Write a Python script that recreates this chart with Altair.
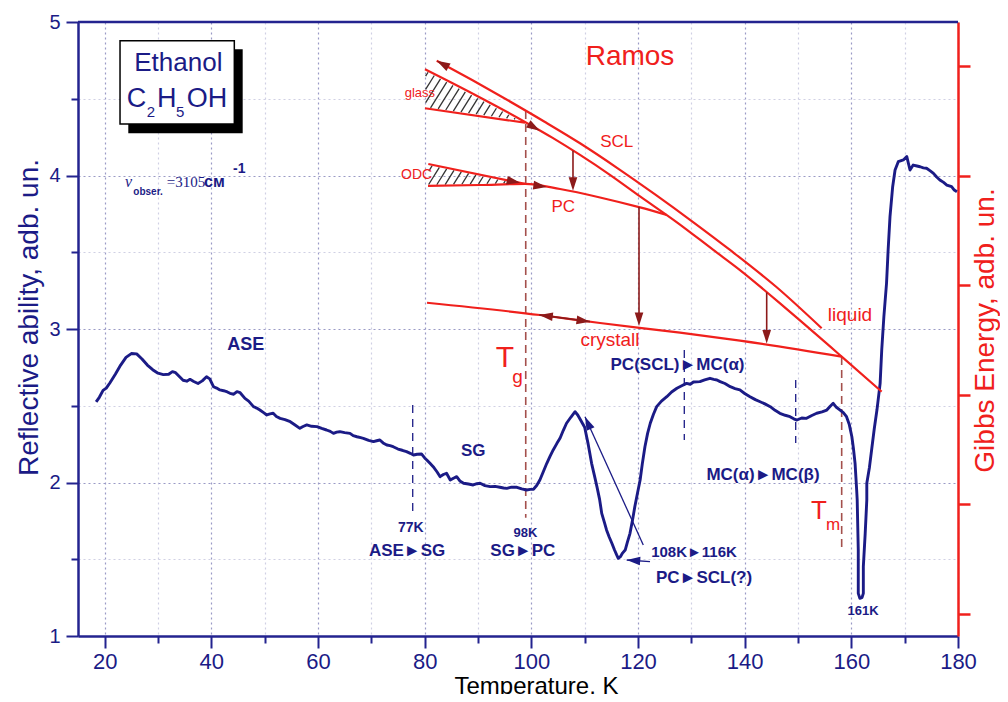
import math
import altair as alt
import pandas as pd

# ---------------- colours / fonts ----------------
NAVY = "#1b1b86"
AXC = "#23238f"
RED = "#f0201c"
DARKRED = "#8c1a1a"
DASHRED = "#a4504c"
GRID_MAJ = "#9a9ac6"
GRID_MIN = "#d0d0e4"
FONT = "Liberation Sans"
SERIF = "Liberation Serif"

W, H = 880, 614
X_DOMAIN = [15, 180]
Y_DOMAIN = [1, 5]
GIBBS_DOMAIN = [0.8, 6.4]

# ---------------- measured reflectivity curve ----------------
temp_K = [18.4, 19.0, 19.7, 20.3, 21.0, 22.0, 23.0, 24.0, 25.0, 26.0, 27.0, 28.0, 29.0, 30.0,
          31.0, 32.0, 32.7, 33.3, 34.0, 34.7, 35.4, 36.0, 36.7, 37.5, 38.3, 39.1, 39.7, 40.4,
          41.0, 41.6, 42.3, 43.0, 43.5, 44.2, 44.8, 45.4, 46.3, 47.0, 47.9, 48.5, 49.1, 49.8,
          50.4, 51.0, 51.6, 52.2, 52.9, 53.8, 54.8, 55.7, 56.6, 57.2, 57.9, 58.8, 59.8, 60.7,
          61.6, 62.3, 62.9, 63.5, 64.1, 65.0, 66.0, 66.6, 67.3, 68.0, 68.5, 69.5, 70.4, 71.0,
          71.6, 72.2, 72.9, 73.5, 74.1, 75.0, 75.8, 76.6, 77.3, 77.9, 78.6, 79.4, 80.0, 80.4,
          81.0, 81.6, 82.3, 82.9, 83.5, 84.1, 84.8, 85.4, 86.0, 86.6, 87.3, 88.2, 89.1, 89.8,
          90.4, 91.3, 92.3, 93.2, 94.1, 94.8, 95.4, 96.3, 97.3, 98.2, 99.1, 99.8, 100.4, 101.0,
          101.6, 102.3, 102.9, 103.5, 104.1, 104.8, 105.4, 106.0, 106.6, 107.4, 108.2, 108.7,
          109.1, 110.0, 110.6, 111.3, 111.8, 112.3, 112.8, 113.2, 113.7, 114.1, 114.6, 115.1,
          115.6, 116.0, 116.3, 116.7, 117.1, 117.6, 118.0, 118.5, 119.0, 119.4, 119.9, 120.4,
          120.8, 121.3, 121.8, 122.3, 122.9, 123.5, 124.4, 125.4, 126.3, 127.3, 128.2, 129.1,
          129.8, 130.4, 131.6, 132.5, 133.5, 134.2, 134.8, 135.4, 136.3, 137.3, 138.2, 139.1,
          140.0, 141.0, 142.0, 142.9, 143.8, 144.8, 145.7, 146.6, 147.6, 148.5, 149.2, 149.8,
          150.7, 151.6, 152.5, 153.5, 154.5, 155.4, 156.0, 156.6, 157.2, 157.9, 158.5, 159.1,
          159.6, 160.1, 160.4, 160.7, 161.0, 161.1, 161.3, 161.3, 161.6, 162.0, 162.25, 162.25,
          162.6, 162.9, 162.9, 163.4, 163.8, 164.3, 164.8, 165.4, 165.7, 166.1, 166.6, 166.9,
          167.25, 167.75, 168.2, 168.8, 169.75, 170.4, 171.0, 171.6, 172.3, 172.9, 173.5, 174.1,
          174.8, 175.4, 176.0, 176.6, 177.3, 177.9, 178.8, 179.3, 179.8]
reflect = [2.525, 2.555, 2.600, 2.615, 2.650, 2.705, 2.765, 2.815, 2.840, 2.838, 2.805, 2.765, 2.735, 2.712,
           2.703, 2.705, 2.722, 2.715, 2.690, 2.666, 2.660, 2.672, 2.658, 2.645, 2.662, 2.689, 2.675, 2.624,
           2.615, 2.603, 2.598, 2.590, 2.581, 2.575, 2.592, 2.585, 2.548, 2.530, 2.494, 2.485, 2.472, 2.455,
           2.440, 2.447, 2.451, 2.430, 2.418, 2.410, 2.396, 2.375, 2.353, 2.365, 2.375, 2.366, 2.364, 2.352,
           2.342, 2.333, 2.320, 2.328, 2.331, 2.325, 2.320, 2.305, 2.298, 2.292, 2.288, 2.275, 2.266, 2.272,
           2.277, 2.258, 2.244, 2.240, 2.233, 2.218, 2.210, 2.201, 2.190, 2.179, 2.184, 2.186, 2.160, 2.147,
           2.125, 2.103, 2.070, 2.038, 2.052, 2.060, 2.016, 2.028, 2.038, 2.010, 1.995, 1.990, 1.984, 1.992,
           1.995, 1.980, 1.973, 1.975, 1.969, 1.964, 1.962, 1.970, 1.969, 1.958, 1.951, 1.955, 1.956, 1.980,
           2.016, 2.075, 2.125, 2.170, 2.212, 2.255, 2.290, 2.340, 2.386, 2.425, 2.461, 2.440,
           2.415, 2.360, 2.260, 2.125, 2.050, 1.973, 1.890, 1.799, 1.740, 1.691, 1.645, 1.604,
           1.560, 1.528, 1.506, 1.517, 1.540, 1.560, 1.610, 1.669, 1.760, 1.842, 1.930, 2.016,
           2.120, 2.233, 2.320, 2.386, 2.445, 2.494, 2.530, 2.559, 2.590, 2.614, 2.630, 2.646,
           2.640, 2.655, 2.657, 2.668, 2.679, 2.672, 2.668, 2.657, 2.645, 2.624, 2.612, 2.603,
           2.580, 2.559, 2.540, 2.526, 2.512, 2.494, 2.470, 2.451, 2.438, 2.429, 2.415, 2.407,
           2.420, 2.418, 2.435, 2.451, 2.460, 2.472, 2.495, 2.516, 2.490, 2.472, 2.455, 2.429,
           2.380, 2.298, 2.220, 2.125, 1.951, 1.886, 1.560, 1.278, 1.246, 1.250, 1.278, 1.452,
           1.669, 1.886, 1.995, 2.100, 2.212, 2.350, 2.472, 2.646, 2.863, 3.080, 3.298, 3.515,
           3.732, 3.927, 4.036, 4.090, 4.101, 4.123, 4.036, 4.068, 4.062, 4.057, 4.050, 4.047,
           4.030, 4.014, 3.990, 3.971, 3.955, 3.938, 3.927, 3.905, 3.894]

# ---------------- Ramos Gibbs-energy sketch (in plot units) ----------------
scl_upper_T = [82.26, 88.9, 95.6, 102.4, 109.13, 116.2, 123.2, 130.2, 137.25, 145.9, 154.44]
scl_upper_R = [4.748, 4.622, 4.49, 4.352, 4.210, 4.047, 3.877, 3.700, 3.515, 3.275, 3.005]
scl_lower_T = [80.06, 89.4, 98.81, 104.0, 109.13, 114.8, 120.38, 127.3, 134.12, 139.12, 148.5,
               158.19, 165.69]
scl_lower_R = [4.692, 4.526, 4.349, 4.245, 4.134, 4.003, 3.864, 3.695, 3.515, 3.384, 3.111,
               2.820, 2.592]
glass_T = [80.06, 98.81]
glass_R = [4.438, 4.344]
odc_T = [80.68, 98.81]
odc_R = [4.075, 3.945]
pc_T = [80.63, 90.38, 98.81, 105.38, 112.88, 120.38, 125.38]
pc_R = [3.932, 3.938, 3.945, 3.912, 3.857, 3.792, 3.743]
crystal_T = [80.44, 101.63, 112.88, 127.88, 139.12, 158.19]
crystal_R = [3.171, 3.091, 3.039, 2.976, 2.924, 2.820]

# vertical transition arrows (dark red)
varrow_T = [107.81, 120.19, 144.13]
varrow_from = [4.161, 3.794, 3.238]
varrow_to = [3.90, 3.02, 2.905]
# double arrow on crystal line
darrow_T = [101.5, 111.0]
darrow_R = [3.092, 3.048]
# other red arrowheads: tip (T,R) and a point behind it
head_tip_T = [82.26, 101.6, 97.9, 102.9]
head_tip_R = [4.748, 4.291, 3.952, 3.925]
head_back_T = [95.6, 98.81, 80.68, 98.81]
head_back_R = [4.49, 4.349, 4.075, 3.945]

# hatched regions (glass, ODC)
glass_poly = [(80.06, 4.692), (98.81, 4.349), (80.06, 4.438)]
odc_poly = [(80.68, 4.075), (98.81, 3.945), (80.63, 3.932)]

# dashed markers
red_dash_T = [98.95, 158.19]
red_dash_R1 = [4.42, 2.818]
red_dash_R2 = [1.77, 1.573]
blue_dash_T = [77.76, 128.68, 149.57]
blue_dash_R1 = [2.505, 2.863, 2.668]
blue_dash_R2 = [1.801, 2.277, 2.257]

# navy pointer arrows: tail -> tip
blue_arrow_T1 = [120.99, 122.25]
blue_arrow_R1 = [1.593, 1.484]
blue_arrow_T2 = [110.06, 117.88]
blue_arrow_R2 = [2.429, 1.495]

# text labels
red_text = ["Ramos", "SCL", "glass", "ODC", "PC", "crystall", "liquid", "T", "g", "T", "m"]
red_text_T = [118.5, 116.0, 79.1, 78.5, 106.0, 114.75, 159.75, 95.06, 97.4, 153.94, 156.6]
red_text_R = [4.772, 4.220, 4.535, 4.003, 3.797, 2.928, 3.091, 2.811, 2.687, 1.812, 1.723]
red_text_size = [28, 17, 13, 14, 17, 19, 19, 30, 19, 26, 17]

blue_text = ["ASE", "SG", "77K", "ASE►SG", "98K", "SG►PC", "108K►116K", "PC►SCL(?)", "161K",
             "PC(SCL)►MC(α)", "MC(α)►MC(β)"]
blue_text_T = [46.46, 89.12, 77.4, 76.7, 98.9, 98.4, 130.5, 132.38, 162.19, 127.41, 143.44]
blue_text_R = [2.896, 2.205, 1.704, 1.554, 1.674, 1.554, 1.549, 1.378, 1.166, 2.765, 2.049]
blue_text_size = [18, 17, 14, 17, 13, 17, 15, 17, 13, 17, 17]

# Ethanol box
box_T = [22.88, 44.31]
box_R = [4.878, 4.336]
shadow_T = [24.43, 45.88]
shadow_R = [4.822, 4.275]

# ---------------- helpers ----------------
XS = alt.Scale(domain=X_DOMAIN, nice=False, zero=False)
YS = alt.Scale(domain=Y_DOMAIN, nice=False, zero=False)


def xq(field, axis=None):
    return alt.X(field, type="quantitative", scale=XS, axis=axis)


def yq(field, axis=None):
    return alt.Y(field, type="quantitative", scale=YS, axis=axis)


def to_px(t, r):
    return ((t - X_DOMAIN[0]) / (X_DOMAIN[1] - X_DOMAIN[0]) * W,
            (Y_DOMAIN[1] - r) / (Y_DOMAIN[1] - Y_DOMAIN[0]) * H)


def to_dat(px, py):
    return (X_DOMAIN[0] + px / W * (X_DOMAIN[1] - X_DOMAIN[0]),
            Y_DOMAIN[1] - py / H * (Y_DOMAIN[1] - Y_DOMAIN[0]))


def head_angle(t_tip, r_tip, t_back, r_back):
    dx = (t_tip - t_back) * W / (X_DOMAIN[1] - X_DOMAIN[0])
    dy = -(r_tip - r_back) * H / (Y_DOMAIN[1] - Y_DOMAIN[0])
    return math.degrees(math.atan2(dx, -dy)) % 360


def hatch(poly, spacing=7.0, ang=58.0, shrink=1.2):
    a = math.radians(ang)
    d = (math.cos(a), -math.sin(a))
    n = (math.sin(a), math.cos(a))
    P = [to_px(*p) for p in poly]
    cs = [n[0] * x + n[1] * y for x, y in P]
    segs = []
    c = min(cs) + spacing * 0.6
    while c < max(cs):
        pts = []
        for i in range(len(P)):
            (x1, y1), (x2, y2) = P[i], P[(i + 1) % len(P)]
            c1, c2 = cs[i], cs[(i + 1) % len(P)]
            if c1 != c2 and (c1 - c) * (c2 - c) <= 0:
                t = (c - c1) / (c2 - c1)
                pts.append((x1 + t * (x2 - x1), y1 + t * (y2 - y1)))
        if len(pts) >= 2:
            pts.sort(key=lambda p: d[0] * p[0] + d[1] * p[1])
            (ax, ay), (bx, by) = pts[0], pts[-1]
            L = math.hypot(bx - ax, by - ay)
            if L > 2 * shrink + 1:
                ux, uy = (bx - ax) / L, (by - ay) / L
                ax, ay = ax + ux * shrink, ay + uy * shrink
                bx, by = bx - ux * shrink, by - uy * shrink
                t1, r1 = to_dat(ax, ay)
                t2, r2 = to_dat(bx, by)
                segs.append({"T": t1, "R": r1, "T2": t2, "R2": r2})
        c += spacing
    return segs


ARROW = "M0,0L0.32,1L-0.32,1Z"

# ---------------- axes ----------------
ax_x_major = alt.Axis(values=list(range(20, 181, 20)), orient="bottom", tickSize=12, tickWidth=2,
                      tickColor=AXC, domainColor=AXC, domainWidth=2.5, labelFontSize=22,
                      labelColor=NAVY, labelFont=FONT, labelPadding=3, labelFlush=False,
                      labelOverlap=False, grid=True, gridColor=GRID_MAJ, gridDash=[2, 3],
                      gridWidth=1.2, title="Temperature, K", titleFont=FONT, titleFontSize=24,
                      titleFontWeight="normal", titleColor="black", titleX=458, titleY=57,
                      titleAlign="center", titleBaseline="alphabetic")
ax_y_major = alt.Axis(values=[1, 2, 3, 4, 5], orient="left", tickSize=12, tickWidth=2,
                      tickColor=AXC, domainColor=AXC, domainWidth=2.5, labelFontSize=20,
                      labelColor=NAVY, labelFont=FONT, labelPadding=6, labelFlush=False,
                      labelOverlap=False, grid=True, gridColor=GRID_MAJ, gridDash=[2, 3],
                      gridWidth=1.2, title="Reflective ability, adb. un.", titleFont=FONT,
                      titleFontSize=28, titleFontWeight="normal", titleColor=NAVY, titleAngle=270,
                      titleX=-41, titleY=295, titleAlign="center", titleBaseline="alphabetic")
ax_x_minor = alt.Axis(values=list(range(30, 180, 20)), orient="bottom", tickSize=7, tickWidth=2,
                      tickColor=AXC, domain=False, labels=False, grid=True, gridColor=GRID_MIN,
                      gridDash=[2, 3], gridWidth=1.2, title="")
ax_y_minor = alt.Axis(values=[1.5, 2.5, 3.5, 4.5], orient="left", tickSize=7, tickWidth=2,
                      tickColor=AXC, domain=False, labels=False, grid=True, gridColor=GRID_MIN,
                      gridDash=[2, 3], gridWidth=1.2, title="")
ax_gibbs = alt.Axis(values=[1, 2, 3, 4, 5, 6], orient="right", tickSize=12, tickWidth=2.5,
                    tickColor=RED, domainColor=RED, domainWidth=2.5, labels=False, grid=False,
                    title="Gibbs Energy, adb. un.", titleFont=FONT, titleFontSize=28,
                    titleFontWeight="normal", titleColor=RED, titleAngle=270, titleX=35,
                    titleY=308, titleAlign="center", titleBaseline="alphabetic")

layers = []

# minor grid / ticks carrier
minor_df = pd.DataFrame({"T": [15, 180], "R": [1, 5]})
layers.append(alt.Chart(minor_df).mark_point(opacity=0).encode(
    x=xq("T", ax_x_minor), y=yq("R", ax_y_minor)))

# Gibbs axis carrier (independent scale)
gibbs_df = pd.DataFrame({"G": GIBBS_DOMAIN})
layers.append(alt.Chart(gibbs_df).mark_point(opacity=0).encode(
    x=alt.value(0),
    y=alt.Y("G", type="quantitative", scale=alt.Scale(domain=GIBBS_DOMAIN, nice=False, zero=False),
            axis=ax_gibbs)))

# top frame line
frame_df = pd.DataFrame({"T": [X_DOMAIN[0]], "T2": [X_DOMAIN[1]], "R": [Y_DOMAIN[1]]})
layers.append(alt.Chart(frame_df).mark_rule(color=AXC, strokeWidth=2.5).encode(
    x=xq("T"), x2="T2", y=yq("R")))

# dashed markers
rd = pd.DataFrame({"T": red_dash_T, "R": red_dash_R1, "R2": red_dash_R2})
layers.append(alt.Chart(rd).mark_rule(color=DASHRED, strokeWidth=1.6, strokeDash=[8, 5]).encode(
    x=xq("T"), y=yq("R"), y2="R2"))
bd = pd.DataFrame({"T": blue_dash_T, "R": blue_dash_R1, "R2": blue_dash_R2})
layers.append(alt.Chart(bd).mark_rule(color=NAVY, strokeWidth=1.3, strokeDash=[8, 6]).encode(
    x=xq("T"), y=yq("R"), y2="R2"))

# measured curve
curve_df = pd.DataFrame({"T": temp_K, "R": reflect, "i": range(len(temp_K))})
layers.append(alt.Chart(curve_df).mark_line(color=NAVY, strokeWidth=2.9, strokeJoin="round").encode(
    x=xq("T", ax_x_major), y=yq("R", ax_y_major), order="i:Q"))

# hatching
hatch_df = pd.DataFrame(hatch(glass_poly) + hatch(odc_poly))
layers.append(alt.Chart(hatch_df).mark_rule(color="#333333", strokeWidth=1.3).encode(
    x=xq("T"), x2="T2", y=yq("R"), y2="R2"))

# red Gibbs lines
rows = []
for name, ts, rs in [("scl_upper", scl_upper_T, scl_upper_R), ("scl_lower", scl_lower_T, scl_lower_R),
                     ("glass", glass_T, glass_R), ("odc", odc_T, odc_R), ("pc", pc_T, pc_R),
                     ("crystal", crystal_T, crystal_R)]:
    for i, (t, r) in enumerate(zip(ts, rs)):
        rows.append({"id": name, "i": i, "T": t, "R": r})
layers.append(alt.Chart(pd.DataFrame(rows)).mark_line(color=RED, strokeWidth=2.2,
                                                       interpolate="monotone").encode(
    x=xq("T"), y=yq("R"), detail="id:N", order="i:Q"))

# dark red arrow shafts
va = pd.DataFrame({"T": varrow_T, "R": varrow_from, "R2": [v + 0.03 for v in varrow_to]})
layers.append(alt.Chart(va).mark_rule(color=DARKRED, strokeWidth=1.6).encode(
    x=xq("T"), y=yq("R"), y2="R2"))
da = pd.DataFrame({"T": [darrow_T[0]], "T2": [darrow_T[1]], "R": [darrow_R[0]], "R2": [darrow_R[1]]})
layers.append(alt.Chart(da).mark_rule(color=DARKRED, strokeWidth=1.6).encode(
    x=xq("T"), x2="T2", y=yq("R"), y2="R2"))

# dark red arrowheads
heads = []
for t, r0, r1 in zip(varrow_T, varrow_from, varrow_to):
    heads.append({"T": t, "R": r1, "ang": head_angle(t, r1, t, r0)})
heads.append({"T": darrow_T[0], "R": darrow_R[0],
              "ang": head_angle(darrow_T[0], darrow_R[0], darrow_T[1], darrow_R[1])})
heads.append({"T": darrow_T[1], "R": darrow_R[1],
              "ang": head_angle(darrow_T[1], darrow_R[1], darrow_T[0], darrow_R[0])})
for tt, rt, tb, rb in zip(head_tip_T, head_tip_R, head_back_T, head_back_R):
    heads.append({"T": tt, "R": rt, "ang": head_angle(tt, rt, tb, rb)})
layers.append(alt.Chart(pd.DataFrame(heads)).mark_point(
    shape=ARROW, filled=True, size=729, color=DARKRED, opacity=1, strokeWidth=0).encode(
    x=xq("T"), y=yq("R"), angle=alt.Angle("ang", type="quantitative", scale=None)))

# navy pointer arrows
ba = pd.DataFrame({"T": blue_arrow_T1, "R": blue_arrow_R1, "T2": blue_arrow_T2, "R2": blue_arrow_R2})
layers.append(alt.Chart(ba).mark_rule(color=NAVY, strokeWidth=1.3).encode(
    x=xq("T"), x2="T2", y=yq("R"), y2="R2"))
bh = pd.DataFrame([{"T": t2, "R": r2, "ang": head_angle(t2, r2, t1, r1)}
                   for t1, r1, t2, r2 in zip(blue_arrow_T1, blue_arrow_R1, blue_arrow_T2, blue_arrow_R2)])
layers.append(alt.Chart(bh).mark_point(
    shape=ARROW, filled=True, size=729, color=NAVY, opacity=1, strokeWidth=0).encode(
    x=xq("T"), y=yq("R"), angle=alt.Angle("ang", type="quantitative", scale=None)))

# Ethanol box with shadow
sh = pd.DataFrame({"T": [shadow_T[0]], "T2": [shadow_T[1]], "R": [shadow_R[0]], "R2": [shadow_R[1]]})
layers.append(alt.Chart(sh).mark_rect(color="black").encode(
    x=xq("T"), x2="T2", y=yq("R"), y2="R2"))
bx = pd.DataFrame({"T": [box_T[0]], "T2": [box_T[1]], "R": [box_R[0]], "R2": [box_R[1]]})
layers.append(alt.Chart(bx).mark_rect(fill="white", stroke="black", strokeWidth=1.5).encode(
    x=xq("T"), x2="T2", y=yq("R"), y2="R2"))


def text_layer(texts, ts, rs, **kw):
    df = pd.DataFrame({"txt": texts, "T": ts, "R": rs})
    return alt.Chart(df).mark_text(**kw).encode(x=xq("T"), y=yq("R"), text="txt:N")


layers.append(text_layer(["Ethanol"], [33.81], [4.683], font=FONT, fontSize=26, color=NAVY,
                         align="center", baseline="alphabetic"))
layers.append(text_layer(["C", "H", "OH"], [24.13, 29.81, 35.38], [4.444] * 3, font=FONT,
                         fontSize=27, color=NAVY, align="left", baseline="alphabetic"))
layers.append(text_layer(["2", "5"], [27.88, 33.38], [4.383] * 2, font=FONT, fontSize=15,
                         color=NAVY, align="left", baseline="alphabetic"))
# nu_obser = 3105 cm^-1
layers.append(text_layer(["ν"], [23.81], [3.925], font=SERIF, fontSize=16, fontStyle="italic",
                         color=NAVY, align="left", baseline="alphabetic"))
layers.append(text_layer(["obser."], [25.37], [3.873], font=FONT, fontSize=10, fontWeight="bold",
                         color=NAVY, align="left", baseline="alphabetic"))
layers.append(text_layer(["=3105"], [31.63], [3.923], font=SERIF, fontSize=15,
                         color=NAVY, align="left", baseline="alphabetic"))
layers.append(text_layer(["см"], [38.63], [3.923], font=FONT, fontSize=16, fontWeight="bold",
                         color=NAVY, align="left", baseline="alphabetic"))
layers.append(text_layer(["-1"], [44.06], [4.014], font=FONT, fontSize=14, fontWeight="bold",
                         color=NAVY, align="left", baseline="alphabetic"))

# red annotations
rdf = pd.DataFrame({"txt": red_text, "T": red_text_T, "R": red_text_R, "fs": red_text_size})
layers.append(alt.Chart(rdf).mark_text(font=FONT, color=RED, align="center", baseline="middle").encode(
    x=xq("T"), y=yq("R"), text="txt:N", size=alt.Size("fs", type="quantitative", scale=None)))

# navy bold annotations
bdf = pd.DataFrame({"txt": blue_text, "T": blue_text_T, "R": blue_text_R, "fs": blue_text_size})
layers.append(alt.Chart(bdf).mark_text(font=FONT, fontWeight="bold", color=NAVY, align="center",
                                        baseline="middle").encode(
    x=xq("T"), y=yq("R"), text="txt:N", size=alt.Size("fs", type="quantitative", scale=None)))

chart = alt.layer(*layers).resolve_scale(y="independent").resolve_axis(
    x="independent", y="independent").properties(
    width=W, height=H, background="white",
    padding={"left": 70, "top": 14, "right": 42, "bottom": 58},
    autosize=alt.AutoSizeParams(type="none")).configure_view(strokeWidth=0)

chart.save("out.html", embed_options={"renderer": "svg", "actions": False})
